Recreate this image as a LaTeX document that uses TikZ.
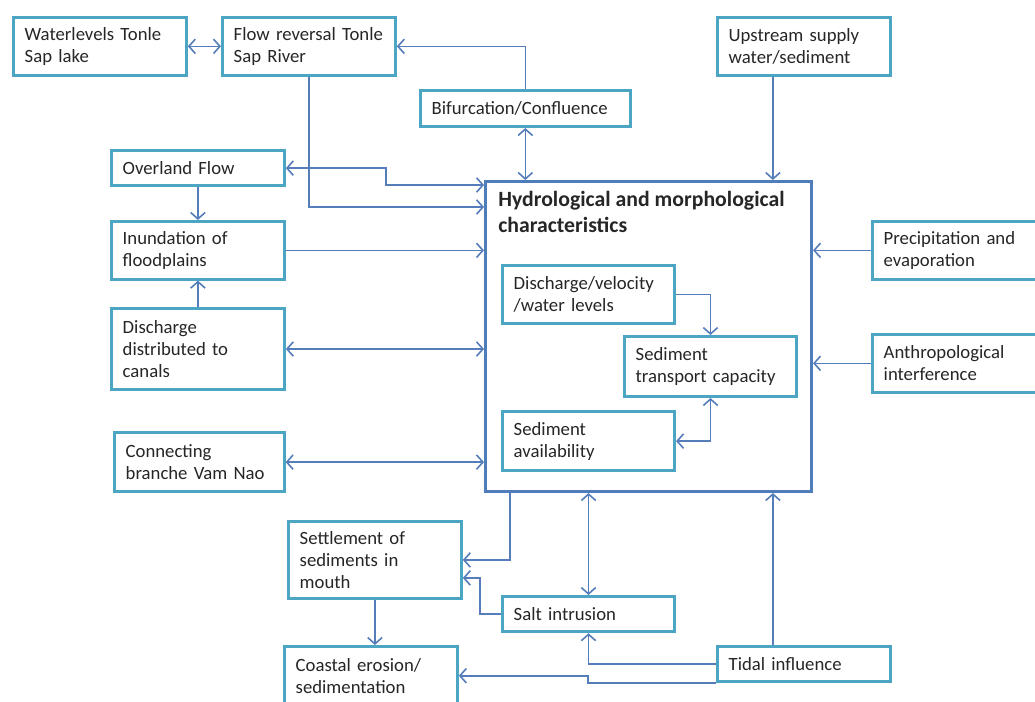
\documentclass[tikz,border=0pt]{standalone}
\usepackage{fontspec}
\setmainfont{Carlito}
\usetikzlibrary{arrows.meta,calc}

\definecolor{boxline}{RGB}{75,165,195}
\definecolor{mainline}{RGB}{79,125,185}
\definecolor{arrowline}{RGB}{85,125,185}

\tikzset{
  box/.style={draw=boxline, line width=1.9pt, fill=white, anchor=north west,
    align=left, inner xsep=7pt, text=black!85,
    font=\fontsize{11.7}{13.75}\selectfont},
  arr/.style={draw=arrowline, line width=1pt,
    -{Straight Barb[length=4pt,width=9pt]}},
  darr/.style={arr,
    {Straight Barb[length=4pt,width=9pt]}-{Straight Barb[length=4pt,width=9pt]}},
}

\begin{document}
\begin{tikzpicture}[x=0.625pt,y=-0.625pt]
\useasboundingbox (0,0) rectangle (1035,702);

% outer boxes
\node[box, text width=94pt, minimum height=36pt] (water) at (12,16) {Waterlevels Tonle\\Sap lake};
\node[box, text width=94pt, minimum height=36pt] (flow) at (221,16) {Flow reversal Tonle\\Sap River};
\node[box, text width=117pt, minimum height=22.5pt] (bif) at (419,89) {Bifurcation/Confluence};
\node[box, text width=94pt, minimum height=36pt] (up) at (716,16) {Upstream supply\\water/sediment};
\node[box, text width=94pt, minimum height=22pt] (over) at (110,149) {Overland Flow};
\node[box, text width=94pt, minimum height=36pt] (inund) at (110,220) {Inundation of\\floodplains};
\node[box, text width=94pt, minimum height=50.6pt] (dist) at (110,307) {Discharge\\distributed to\\canals};
\node[box, text width=92pt, minimum height=37pt] (conn) at (113,431) {Connecting\\branche Vam Nao};
\node[box, text width=92pt, minimum height=36pt] (precip) at (871,220) {Precipitation and\\evaporation};
\node[box, text width=92pt, minimum height=36pt] (anthro) at (871,333) {Anthropological\\interference};
\node[box, text width=94pt, minimum height=48pt] (settle) at (287,520) {Settlement of\\sediments in\\mouth};
\node[box, text width=93.5pt, minimum height=22pt] (salt) at (501,595) {Salt intrusion};
\node[box, text width=94pt, minimum height=36.5pt] (coast) at (283,645) {Coastal erosion/\\sedimentation};
\node[box, text width=94pt, minimum height=22pt] (tidal) at (716,645) {Tidal influence};

% central box
\node[draw=mainline, line width=1.9pt, anchor=north west, minimum width=203.75pt,
  minimum height=193.75pt] (main) at (484,180) {};
\node[anchor=north west, inner sep=0pt, align=left, text=black!85,
  font=\bfseries\fontsize{13.6}{16.25}\selectfont] (title) at ($(main.north west)+(14,11)$)
  {Hydrological and morphological\\characteristics};
\node[box, text width=93.5pt, minimum height=36.25pt] (disc) at (501,264) {Discharge/velocity\\/water levels};
\node[box, text width=93.5pt, minimum height=37.5pt] (transp) at (623,335) {Sediment\\transport capacity};
\node[box, text width=93.5pt, minimum height=37pt] (avail) at (501,410) {Sediment\\availability};

% connectors
\draw[darr] (water.east) -- (flow.west);
\draw[arr] (bif.north) |- (flow.east);
\draw[darr] (bif.south) -- (bif.south |- main.north);
\coordinate (upfoot) at ($(up.south)+(-31,0)$);
\draw[arr] (upfoot) -- (upfoot |- main.north);
\draw[arr] (flow.south) |- ($(main.north west)+(0,27)$);
\draw[darr] (over.east) -- ++(100,0) |- ($(main.north west)+(0,5)$);
\draw[arr] (over.south) -- (inund.north);
\draw[arr] (inund.east) -- (inund.east -| main.west);
\draw[arr] (dist.north) -- (inund.south);
\draw[darr] (dist.east) -- (dist.east -| main.west);
\draw[darr] (conn.east) -- (conn.east -| main.west);
\draw[arr] (precip.west) -- (precip.west -| main.east);
\draw[arr] (anthro.west) -- (anthro.west -| main.east);
\draw[arr] (disc.east) -| (transp.north);
\draw[darr] (transp.south) |- (avail.east);
\draw[arr] ($(main.south west)+(26,0)$) |- (settle.east);
\draw[darr] (salt.north) -- (salt.north |- main.south);
\draw[arr] (salt.west) -- ++(-21,0) |- ($(settle.east)+(0,18)$);
\draw[arr] (settle.south) -- (settle.south |- coast.north);
\draw[arr] (tidal.west) -| (salt.south);
\draw[arr] (tidal.south west) -- ++(-128,0) |- (coast.east);
\coordinate (tidaltop) at ($(tidal.north)+(-31,0)$);
\draw[arr] (tidaltop) -- (tidaltop |- main.south);
\end{tikzpicture}
\end{document}
